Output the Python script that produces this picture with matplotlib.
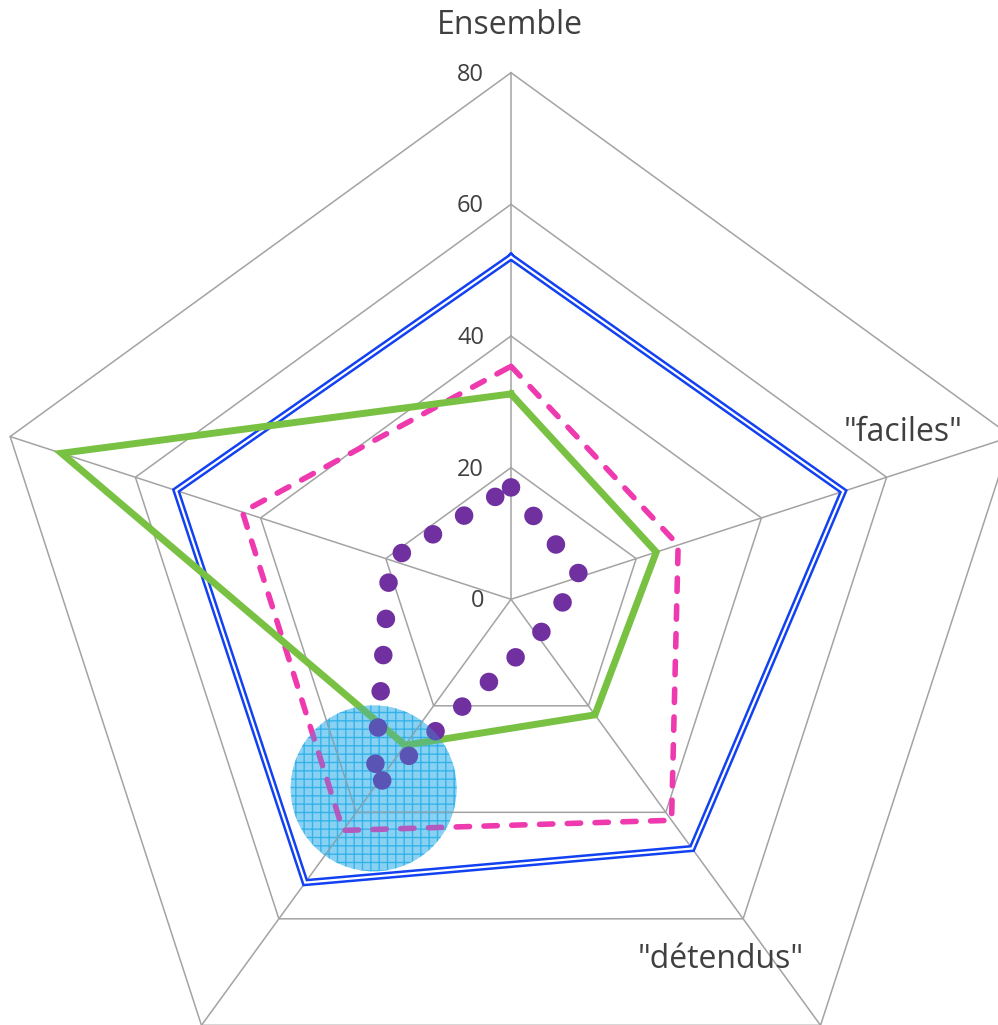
import numpy as np
import matplotlib
matplotlib.use("Agg")
import matplotlib.pyplot as plt

# ---------------- data ----------------
categories = ['Ensemble', '"faciles"', '"détendus"', '', '']
grid_levels = [20, 40, 60, 80]
tick_labels = ['0', '20', '40', '60', '80']
tick_values = [0, 20, 40, 60, 80]

blue_vals = [52.0, 53.1, 46.8, 53.2, 53.5]
pink_vals = [35.4, 26.7, 41.5, 43.4, 42.9]
green_vals = [31.2, 23.2, 21.7, 27.4, 71.8]
purple_vals = [17.0, 11.2, 7.0, 35.5, 19.3]
bubble_cat = 3
bubble_val = 35.5

# ---------------- figure ----------------
W, H = 998, 1025
fig = plt.figure(figsize=(W / 100, H / 100), dpi=100)
cx, cy, R = 511.0, 599.3, 526.6
ax = fig.add_axes([(cx - R) / W, ((H - cy) - R) / H, 2 * R / W, 2 * R / H],
                  projection='polar')
ax.set_theta_zero_location('N')
ax.set_theta_direction(-1)
ax.set_ylim(0, 80)
ax.set_axis_off()

n = len(categories)
theta = np.arange(n) * 2 * np.pi / n
theta_c = np.append(theta, theta[0])


def closed(v):
    return np.append(v, v[0])


gridc = '#a3a3a3'
for lv in grid_levels:
    ax.plot(theta_c, [lv] * (n + 1), color=gridc, lw=1.1, zorder=1, clip_on=False)
for t in theta:
    ax.plot([t, t], [0, 80], color=gridc, lw=1.1, zorder=1, clip_on=False)

# blue double line
ax.plot(theta_c, closed(blue_vals), color='#1241f2', lw=5.2, zorder=3,
        solid_joinstyle='miter')
ax.plot(theta_c, closed(blue_vals), color='white', lw=1.6, zorder=3.1,
        solid_joinstyle='miter')

# pink dashed
ax.plot(theta_c, closed(pink_vals), color='#ee3aae', lw=4.0, zorder=4,
        dashes=(2.4, 2.6), dash_capstyle='round')

# green solid
ax.plot(theta_c, closed(green_vals), color='#78c143', lw=5.0, zorder=5,
        solid_joinstyle='miter')

# purple round dots
ax.plot(theta_c, closed(purple_vals), color='#7030a0', lw=13.4, zorder=6,
        dashes=(0.001, 1.95), dash_capstyle='round')

# big hatched bubble: opaque base below the grid, translucent layer on top
ax.scatter([theta[bubble_cat]], [bubble_val], s=119.5 ** 2, marker='o',
           facecolor='#b3e3f7', edgecolor='#3ab8ea', linewidth=0,
           hatch='++', zorder=0.5)
ax.scatter([theta[bubble_cat]], [bubble_val], s=119.5 ** 2, marker='o',
           facecolor='#2aa9e8', edgecolor='none', linewidth=0,
           alpha=0.3, zorder=7)

# radial tick labels
for v, lab in zip(tick_values, tick_labels):
    ypx = cy - v * R / 80 + 2
    fig.text(484 / W, 1 - ypx / H, lab, ha='right', va='center',
             fontsize=17, color='#404040', family='Open Sans')

# category labels (visible ones)
label_pos = [(510, 25), (903, 433), (721, 960)]
for (x, y), lab in zip(label_pos, categories[:3]):
    fig.text(x / W, 1 - y / H, lab, ha='center', va='center',
             fontsize=23, color='#404040', family='Open Sans')

fig.savefig('out.png', dpi=100)
